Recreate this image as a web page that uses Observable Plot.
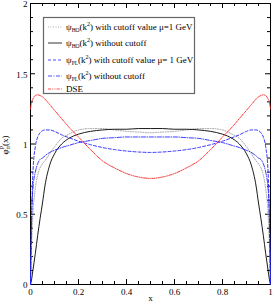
<!DOCTYPE html>
<html><head><meta charset="utf-8">
<script src="https://cdn.jsdelivr.net/npm/d3@7"></script>
<script src="https://cdn.jsdelivr.net/npm/@observablehq/plot@0.6"></script>
<style>body{margin:0;background:#fff}</style>
</head><body><div id="chart"></div>
<script>
const xs    = [0,0.005,0.01,0.02,0.03,0.04,0.05,0.06,0.08,0.1,0.13,0.16,0.2,0.25,0.3,0.35,0.4,0.45,0.5,
               0.55,0.6,0.65,0.7,0.75,0.8,0.84,0.87,0.9,0.92,0.94,0.95,0.96,0.97,0.98,0.99,0.995,1];
const hoCut = [0,0.3,0.5,0.68,0.78,0.83,0.86,0.88,0.93,0.98,1.04,1.07,1.10,1.11,1.11,1.10,1.09,1.085,1.08,
               1.085,1.09,1.10,1.11,1.11,1.10,1.07,1.04,0.98,0.93,0.88,0.86,0.83,0.78,0.68,0.5,0.3,0];
const hoNo  = [0,0.04,0.1,0.22,0.35,0.47,0.58,0.70,0.85,0.93,1.0,1.04,1.07,1.09,1.10,1.105,1.105,1.11,1.11,
               1.11,1.105,1.105,1.10,1.09,1.07,1.04,1.0,0.93,0.85,0.70,0.58,0.47,0.35,0.22,0.1,0.04,0];
const plCut = [0,0.5,0.8,0.98,1.05,1.08,1.095,1.1,1.1,1.09,1.065,1.045,1.02,0.995,0.975,0.96,0.95,0.943,0.94,
               0.943,0.95,0.96,0.975,0.995,1.02,1.045,1.065,1.09,1.1,1.1,1.095,1.08,1.05,0.98,0.8,0.5,0];
const plNo  = [0,0.5,0.68,0.8,0.86,0.89,0.9,0.915,0.94,0.955,0.975,0.99,1.01,1.025,1.04,1.045,1.05,1.05,1.05,
               1.05,1.05,1.045,1.04,1.025,1.01,0.99,0.975,0.955,0.94,0.915,0.9,0.89,0.86,0.8,0.68,0.5,0];
const dse   = [1.25,1.3,1.32,1.345,1.35,1.345,1.335,1.32,1.28,1.24,1.18,1.12,1.05,0.96,0.88,0.83,0.79,0.765,0.755,
               0.765,0.79,0.83,0.88,0.96,1.05,1.12,1.18,1.24,1.28,1.32,1.335,1.345,1.35,1.345,1.32,1.3,1.25];
const xTicks = [0,0.2,0.4,0.6,0.8,1];
const yTicks = [0,0.5,1,1.5,2];
const xMinor = d3.range(0,21).map(i=>i*0.05).filter(v=>Math.abs(v*5-Math.round(v*5))>1e-6);
const yMinor = d3.range(0,21).map(i=>i*0.1).filter(v=>Math.abs(v*2-Math.round(v*2))>1e-6);

const series = [
  {name:"hoCut", vals:hoCut, stroke:"#999", dash:"1,1.5"},
  {name:"hoNo",  vals:hoNo,  stroke:"#000", dash:null},
  {name:"plCut", vals:plCut, stroke:"#2020ff", dash:"3,2"},
  {name:"plNo",  vals:plNo,  stroke:"#2020ff", dash:"4,1.5,1,1.5"},
  {name:"dse",   vals:dse,   stroke:"#ff2020", dash:"3,1.2,1,1.2,1,1.2"}
];

const tx = 5/240, ty = 5/140.5;
const marks = [
  Plot.frame({stroke:"#000", strokeWidth:1}),
  Plot.axisX(xTicks, {anchor:"bottom", tickSize:0, tickPadding:4, tickFormat:d=>String(d), label:"x", labelAnchor:"center", labelArrow:"none", labelOffset:16, fontSize:9}),
  Plot.axisY(yTicks, {anchor:"left", tickSize:0, tickPadding:3, tickFormat:d=>String(d), label:null, fontSize:9, dy:1}),
  Plot.ruleX(xTicks, {x:d=>d, y1:0, y2:ty, stroke:"#000"}),
  Plot.ruleX(xMinor, {x:d=>d, y1:0, y2:ty*0.6, stroke:"#000"}),
  Plot.ruleX(xTicks, {x:d=>d, y1:2, y2:2-ty, stroke:"#000"}),
  Plot.ruleX(xMinor, {x:d=>d, y1:2, y2:2-ty*0.6, stroke:"#000"}),
  Plot.ruleY(yTicks, {y:d=>d, x1:0, x2:tx, stroke:"#000"}),
  Plot.ruleY(yMinor, {y:d=>d, x1:0, x2:tx*0.6, stroke:"#000"}),
  Plot.ruleY(yTicks, {y:d=>d, x1:1, x2:1-tx, stroke:"#000"}),
  Plot.ruleY(yMinor, {y:d=>d, x1:1, x2:1-tx*0.6, stroke:"#000"})
];
for (const s of series) {
  marks.push(Plot.line(xs.map((x,i)=>({x, y:s.vals[i]})), {x:"x", y:"y", stroke:s.stroke, strokeWidth:0.9, strokeDasharray:s.dash, curve:"monotone-x"}));
}

const chart = Plot.plot({
  width:273, height:302,
  marginLeft:30, marginRight:3, marginTop:3, marginBottom:18,
  x:{domain:[0,1]}, y:{domain:[0,2]},
  style:{fontFamily:"Liberation Serif", fontSize:"9px", background:"#fff", color:"#000"},
  marks
});
document.getElementById("chart").append(chart);

const svg = d3.select(chart);
// y label
const yl = svg.append("text").attr("transform","translate(8,145) rotate(-90)")
  .attr("text-anchor","middle").attr("font-family","Liberation Serif").attr("font-size",9).attr("fill","#000");
yl.append("tspan").text("φ");
yl.append("tspan").attr("font-size",6).attr("dy",2).text("π");
yl.append("tspan").attr("font-size",6).attr("dy",-6).attr("dx",-3).text("P");
yl.append("tspan").attr("dy",4).text("(x)");

// legend
const lg = svg.append("g").attr("font-family","Liberation Serif").attr("font-size",9)
  .attr("text-anchor","start").attr("fill","#000");
lg.append("rect").attr("x",43.5).attr("y",17.5).attr("width",151).attr("height",76)
  .style("fill","#fff").style("stroke","#666").style("stroke-width","1.2px");
const rows = [
  {sub:"HO", rest:") with cutoff value μ=1 GeV", y:27},
  {sub:"HO", rest:") without cutoff", y:43},
  {sub:"PL", rest:") with cutoff value μ= 1 GeV", y:60},
  {sub:"PL", rest:") without cutoff", y:76},
  {sub:null, rest:"DSE", y:89}
];
rows.forEach((r,i)=>{
  const s = series[i];
  const ln = lg.append("line").attr("x1",48).attr("x2",62).attr("y1",r.y).attr("y2",r.y)
    .style("stroke",s.stroke).style("stroke-width","0.8px").style("fill","none");
  if (s.dash) ln.style("stroke-dasharray", s.dash);
  const t = lg.append("text").attr("x",66).attr("y",r.y+3).attr("text-anchor","start");
  if (r.sub) {
    t.append("tspan").text("ψ");
    t.append("tspan").attr("font-size",5.5).attr("dy",2).text(r.sub);
    t.append("tspan").attr("dy",-2).text("(k");
    t.append("tspan").attr("font-size",6).attr("dy",-4).text("2");
    t.append("tspan").attr("dy",4).text(r.rest);
  } else {
    t.text(r.rest);
  }
});
</script>
</body></html>
